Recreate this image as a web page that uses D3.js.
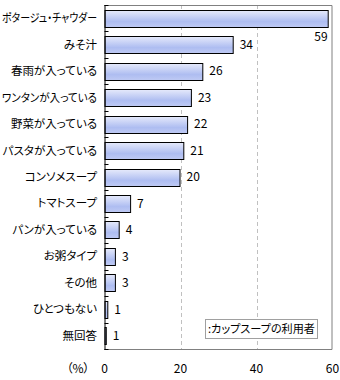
<!DOCTYPE html>
<html><head><meta charset="utf-8">
<script src="https://cdn.jsdelivr.net/npm/d3@7"></script>
<style>
body{margin:0;background:#fff;}
text{font-family:"Noto Sans CJK JP","Noto Sans",sans-serif;font-feature-settings:"palt";}
</style></head>
<body><svg id="c" width="340" height="380"></svg>
<script>
const categories = ["ポタージュ・チャウダー","みそ汁","春雨が入っている","ワンタンが入っている","野菜が入っている","パスタが入っている","コンソメスープ","トマトスープ","パンが入っている","お粥タイプ","その他","ひとつもない","無回答"];
const values = [59,34,26,23,22,21,20,7,4,3,3,1,0.6];
const xTicks = [0,20,40,60];
const unitLabel = "（%）";
const legendLabel = ":カップスープの利用者";

const svg = d3.select("#c");
const m = {l:104.5, r:332.5, t:5, b:349};
const x = d3.scaleLinear().domain([0,60]).range([m.l,m.r]);
const y = d3.scaleBand().domain(categories).range([m.t,m.b]).paddingInner(0.36).paddingOuter(0.18);

const defs = svg.append("defs");
const g = defs.append("linearGradient").attr("id","bg").attr("x1",0).attr("y1",0).attr("x2",0).attr("y2",1);
g.append("stop").attr("offset","0%").attr("stop-color","#e6eafb");
g.append("stop").attr("offset","65%").attr("stop-color","#aebdf1");
g.append("stop").attr("offset","100%").attr("stop-color","#bfcaf4");

// gridlines
svg.append("g").selectAll("line").data(xTicks.filter(d=>d>0&&d<60)).join("line")
  .attr("x1",d=>Math.round(x(d))+0.5).attr("x2",d=>Math.round(x(d))+0.5)
  .attr("y1",m.t).attr("y2",m.b)
  .attr("stroke","#c0c0c0").attr("stroke-dasharray","4,3");

// frame
svg.append("path").attr("d",`M${m.l},${m.t+0.5}H${m.r-0.5}V${m.b+0.5}H${m.l}`)
  .attr("fill","none").attr("stroke","#808080");

// bars
svg.append("g").selectAll("rect").data(categories).join("rect")
  .attr("x",m.l+0.5).attr("y",(d)=>Math.round(y(d))+0.5)
  .attr("width",(d,i)=>Math.max(x(values[i])-m.l-1,1))
  .attr("height",Math.round(y.bandwidth()))
  .attr("fill","url(#bg)").attr("stroke","#000").attr("stroke-width",1);

// left axis
const yTickPos = categories.map(c=>y(c)-y.step()*y.paddingInner()/2).concat([m.b]);
svg.append("line").attr("x1",m.l+0.5).attr("x2",m.l+0.5).attr("y1",m.t).attr("y2",m.b+1).attr("stroke","#000");
svg.append("g").selectAll("line").data(yTickPos).join("line")
  .attr("x1",m.l).attr("x2",m.l+4).attr("y1",d=>Math.round(d)+0.5).attr("y2",d=>Math.round(d)+0.5).attr("stroke","#000");

// category labels
svg.append("g").selectAll("text").data(categories).join("text")
  .attr("x",97).attr("y",d=>y(d)+y.bandwidth()/2).attr("dy","0.35em")
  .attr("text-anchor","end").attr("font-size",11.5).attr("fill","#000").text(d=>d)
  .each(function(){ if(this.getComputedTextLength()>95){ d3.select(this).attr("textLength",95).attr("lengthAdjust","spacingAndGlyphs"); } });

// value labels
svg.append("g").selectAll("text").data(categories).join("text")
  .attr("x",(d,i)=> i===0 ? x(values[i])-1 : x(values[i])+6)
  .attr("y",(d,i)=> i===0 ? y(d)+y.bandwidth()+10 : y(d)+y.bandwidth()/2)
  .attr("dy","0.35em")
  .attr("text-anchor",(d,i)=> i===0 ? "end" : "start")
  .attr("font-size",12).attr("fill","#000")
  .text((d,i)=>Math.round(values[i]));

// x tick labels
svg.append("g").selectAll("text").data(xTicks).join("text")
  .attr("x",d=>x(d)).attr("y",369).attr("dy","0.35em").attr("text-anchor","middle")
  .attr("font-size",12).attr("fill","#000").text(d=>d);
svg.append("text").attr("x",78).attr("y",369).attr("dy","0.35em").attr("text-anchor","middle")
  .attr("font-size",12).attr("fill","#000").text(unitLabel);

// legend
svg.append("rect").attr("x",205.5).attr("y",319.5).attr("width",112).attr("height",19)
  .attr("fill","#fff").attr("stroke","#a0a0a0");
svg.append("text").attr("x",208).attr("y",329).attr("dy","0.35em").attr("text-anchor","start")
  .attr("font-size",11.5).attr("fill","#000").text(legendLabel)
  .each(function(){ if(this.getComputedTextLength()>107){ d3.select(this).attr("textLength",107).attr("lengthAdjust","spacingAndGlyphs"); } });
</script></body></html>
